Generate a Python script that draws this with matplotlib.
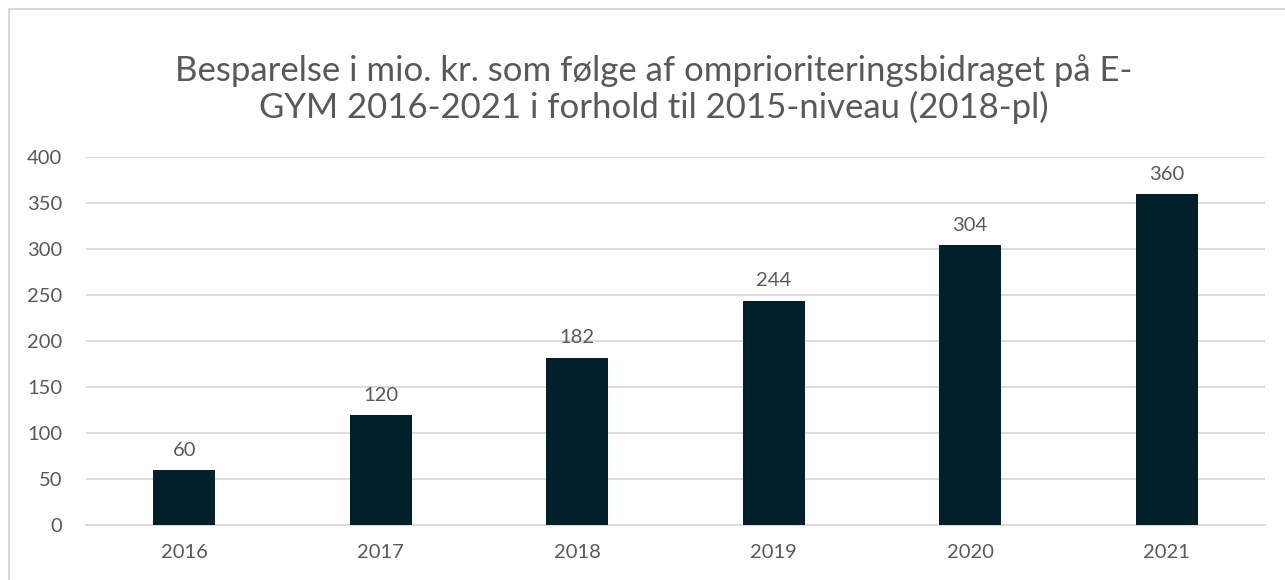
import matplotlib.pyplot as plt
from matplotlib.patches import Rectangle

# data
years = ['2016', '2017', '2018', '2019', '2020', '2021']
savings = [60, 120, 182, 244, 304, 360]
y_ticks = [0, 50, 100, 150, 200, 250, 300, 350, 400]

title = ('Besparelse i mio. kr. som følge af omprioriteringsbidraget på E-\n'
         'GYM 2016-2021 i forhold til 2015-niveau (2018-pl)')

plt.rcParams['font.family'] = ['Lato', 'DejaVu Sans']
text_col = '#595959'
bar_col = '#002129'
grid_col = '#d9d9d9'

fig = plt.figure(figsize=(12.85, 5.8), dpi=100)
ax = fig.add_axes([0.0669, 0.0948, 0.9175, 0.6345])

x = range(len(years))
bars = ax.bar(x, savings, width=0.315, color=bar_col, zorder=3)
ax.bar_label(bars, labels=[str(v) for v in savings], padding=8,
             fontsize=14.5, color=text_col)

ax.set_xlim(-0.5, len(years) - 0.5)
ax.set_ylim(0, 400)
ax.set_yticks(y_ticks)
ax.set_xticks(list(x))
ax.set_xticklabels(years)
ax.tick_params(axis='both', length=0, labelsize=14.5, labelcolor=text_col)
ax.tick_params(axis='y', pad=17)
ax.tick_params(axis='x', pad=14)
ax.yaxis.grid(True, color=grid_col, linewidth=1.3, zorder=0)
for s in ['top', 'right', 'left']:
    ax.spines[s].set_visible(False)
ax.spines['bottom'].set_color(grid_col)
ax.spines['bottom'].set_linewidth(1.3)

fig.text(0.509, 0.846, title, ha='center', va='center', fontsize=25,
         color=text_col, linespacing=1.13)

# light border round the whole chart
fig.patches.append(Rectangle((0.007, -0.1), 1.0, 1.084, transform=fig.transFigure,
                             fill=False, edgecolor='#d9d9d9', linewidth=1.5))

fig.savefig('out.png', dpi=100)
